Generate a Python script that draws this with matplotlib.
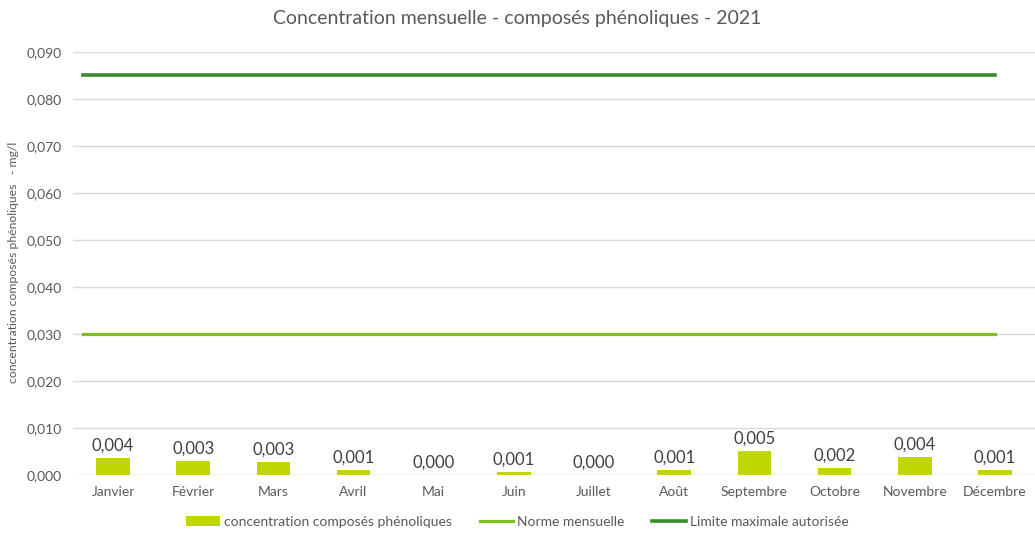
import matplotlib.pyplot as plt
from matplotlib.ticker import FuncFormatter

mois = ["Janvier", "Février", "Mars", "Avril", "Mai", "Juin", "Juillet",
        "Août", "Septembre", "Octobre", "Novembre", "Décembre"]
concentration = [0.0036, 0.0031, 0.0028, 0.0011, 0.0, 0.0006, 0.0,
                 0.0011, 0.0051, 0.0016, 0.0039, 0.0011]
norme_mensuelle = 0.030
limite_max = 0.085

plt.rcParams['font.family'] = ['Lato', 'DejaVu Sans']
gris = '#595959'

fig = plt.figure(figsize=(10.35, 5.35), dpi=100)
ax = fig.add_axes([0.0705, 0.112, 0.9295, 0.791])

x = list(range(len(mois)))
bars = ax.bar(x, concentration, width=0.42, color='#BFD600', zorder=3,
              label='concentration composés phénoliques')
for xi, v in zip(x, concentration):
    ax.text(xi, v + 0.0009, f"{v:.3f}".replace('.', ','), ha='center', va='bottom',
            fontsize=12, color='#404040')

# lignes de référence
xl = [-0.37, len(mois) - 1]
l1, = ax.plot(xl, [norme_mensuelle] * 2, color='#7CBF1E', lw=2.3, zorder=2,
              label='Norme mensuelle')
l2, = ax.plot(xl, [limite_max] * 2, color='#3A8C2F', lw=2.6, zorder=2,
              label='Limite maximale autorisée')

ax.set_xlim(-0.5, len(mois) - 0.5)
ax.set_ylim(0, 0.09)
ax.set_yticks([i / 100 for i in range(10)])
ax.yaxis.set_major_formatter(FuncFormatter(lambda v, p: f"{v:.3f}".replace('.', ',')))
ax.set_xticks(x)
ax.set_xticklabels(mois)
ax.tick_params(axis='both', length=0, labelsize=10, colors=gris)
ax.tick_params(axis='y', pad=8)
ax.tick_params(axis='x', pad=8)
ax.grid(axis='y', color='#D9D9D9', lw=1, zorder=0)
for s in ax.spines.values():
    s.set_visible(False)

fig.text(14 / 1035, 0.51, "concentration composés phénoliques   - mg/l",
         rotation=90, ha='center', va='center', fontsize=8.8, color=gris)
fig.text(0.5, 0.965, "Concentration mensuelle - composés phénoliques - 2021",
         ha='center', va='center', fontsize=14, color=gris)

fig.legend([bars, l1, l2], [bars.get_label(), l1.get_label(), l2.get_label()],
           loc='center', bbox_to_anchor=(0.5, 0.025), ncol=3, frameon=False,
           fontsize=10, labelcolor=gris, handlelength=2.4, handletextpad=0.3,
           columnspacing=2.0)

fig.savefig('out.png', dpi=100)
